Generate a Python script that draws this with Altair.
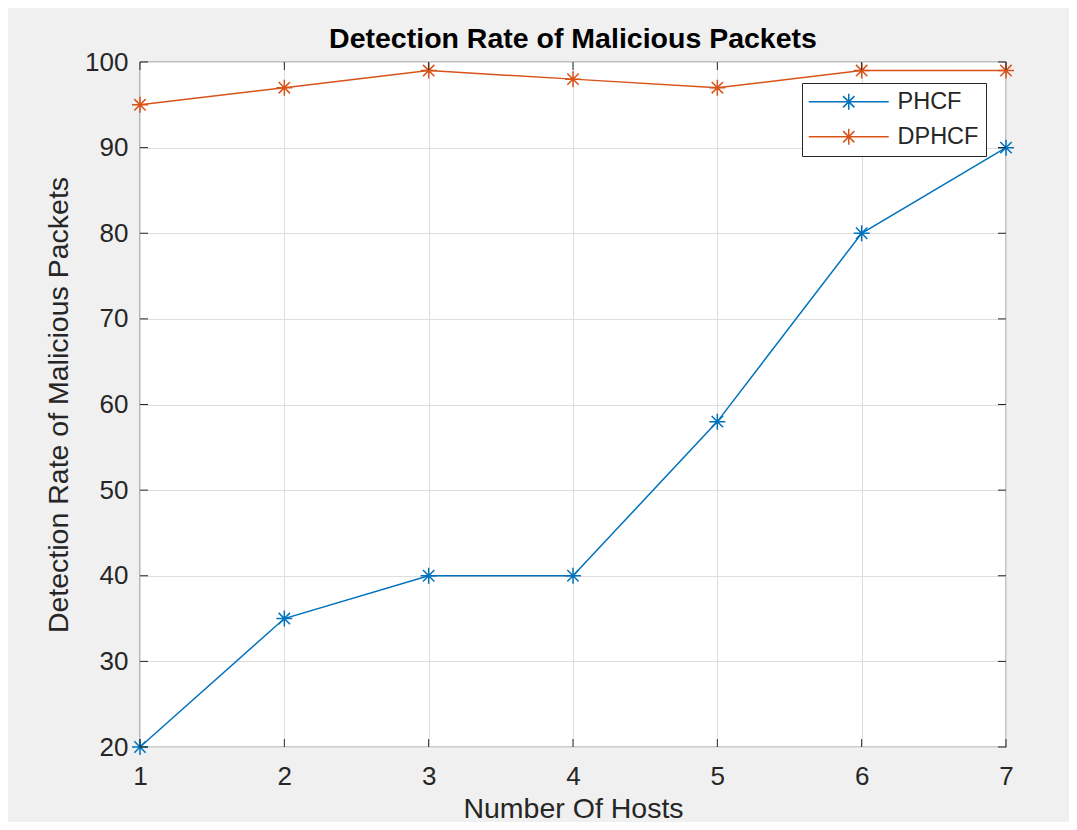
import altair as alt
import pandas as pd

hosts = [1, 2, 3, 4, 5, 6, 7]
phcf = [20, 35, 40, 40, 58, 80, 90]
dphcf = [95, 97, 99, 98, 97, 99, 99]
series_names = ["PHCF", "DPHCF"]
series_colors = ["#0072BD", "#D95319"]
x_ticks = [1, 2, 3, 4, 5, 6, 7]
y_ticks = [20, 30, 40, 50, 60, 70, 80, 90, 100]

W, H = 866, 685
FONT = "Liberation Sans"
TXT = "#262626"

df = pd.DataFrame({
    "Hosts": hosts * 2,
    "Rate": phcf + dphcf,
    "Series": ["PHCF"] * len(hosts) + ["DPHCF"] * len(hosts),
})
xt = pd.DataFrame({"Hosts": x_ticks})
yt = pd.DataFrame({"Rate": y_ticks})

STAR = "M-1,0H1M0,-1V1M-0.71,-0.71L0.71,0.71M-0.71,0.71L0.71,-0.71"
# legend glyph: 80px line with a star in its middle (size 100 -> 5px per unit)
LEG = "M-2.4,0H13.6M5.6,-1.6V1.6M4.47,-1.13L6.73,1.13M4.47,1.13L6.73,-1.13"

xs = alt.Scale(domain=[1, 7], nice=False, zero=False)
ys = alt.Scale(domain=[20, 100], nice=False, zero=False)

legend = alt.Legend(
    title=None, orient="none", legendX=662, legendY=21,
    symbolType=LEG, symbolSize=100, symbolStrokeWidth=1.5,
    symbolFillColor="transparent", labelOffset=65,
    labelFont=FONT, labelFontSize=23.5, labelColor=TXT,
    fillColor="white", strokeColor="#262626", padding=7, rowPadding=10,
)
color = alt.Color("Series:N", scale=alt.Scale(domain=series_names, range=series_colors),
                  legend=legend)

xaxis = alt.Axis(values=x_ticks, format="d", title="Number Of Hosts", grid=True,
                 gridColor="#dedede", domain=False, ticks=False, tickSize=0,
                 labelPadding=16, labelFont=FONT, labelFontSize=26, labelColor=TXT,
                 labelFlush=False, labelBound=False, labelOverlap=False,
                 titleFont=FONT, titleFontSize=28.5, titleFontWeight="normal",
                 titleColor=TXT, titleY=70, titleBaseline="alphabetic")
yaxis = alt.Axis(values=y_ticks, format="d", title="Detection Rate of Malicious Packets",
                 grid=True, gridColor="#dedede", domain=False, ticks=False, tickSize=0,
                 labelPadding=12, labelFont=FONT, labelFontSize=26, labelColor=TXT,
                 labelFlush=False, labelBound=False, labelOverlap=False,
                 titleFont=FONT, titleFontSize=28.5, titleFontWeight="normal",
                 titleColor=TXT, titleX=-73, titleY=H / 2, titleAngle=-90,
                 titleBaseline="alphabetic")

base = alt.Chart(df)
lines = base.mark_line(strokeWidth=1.5).encode(
    x=alt.X("Hosts:Q", scale=xs, axis=xaxis),
    y=alt.Y("Rate:Q", scale=ys, axis=yaxis),
    color=color,
)
points = base.mark_point(shape=STAR, filled=False, size=256, strokeWidth=1.5, opacity=1).encode(
    x=alt.X("Hosts:Q", scale=xs),
    y=alt.Y("Rate:Q", scale=ys),
    color=color,
)

tick_color = "#262626"
xb = alt.Chart(xt).mark_rule(color=tick_color, strokeWidth=1).encode(
    x=alt.X("Hosts:Q", scale=xs), y=alt.value(H), y2=alt.value(H - 8))
xtp = alt.Chart(xt).mark_rule(color=tick_color, strokeWidth=1).encode(
    x=alt.X("Hosts:Q", scale=xs), y=alt.value(0), y2=alt.value(8))
yl = alt.Chart(yt).mark_rule(color=tick_color, strokeWidth=1).encode(
    y=alt.Y("Rate:Q", scale=ys), x=alt.value(0), x2=alt.value(8))
yr = alt.Chart(yt).mark_rule(color=tick_color, strokeWidth=1).encode(
    y=alt.Y("Rate:Q", scale=ys), x=alt.value(W), x2=alt.value(W - 8))

chart = alt.layer(lines, points, xb, xtp, yl, yr).properties(
    width=W, height=H,
    title=alt.TitleParams("Detection Rate of Malicious Packets", font=FONT, fontSize=28.5,
                          fontWeight="bold", color="black", anchor="middle",
                          frame="group", offset=-4),
    autosize=alt.AutoSizeParams(type="none"),
    padding={"left": 132, "top": 54, "right": 63, "bottom": 75},
    background="#f0f0f0",
).configure_view(fill="white", stroke="#333333", strokeWidth=1.2)

chart.save("out.html", embed_options={"renderer": "svg", "actions": False})
